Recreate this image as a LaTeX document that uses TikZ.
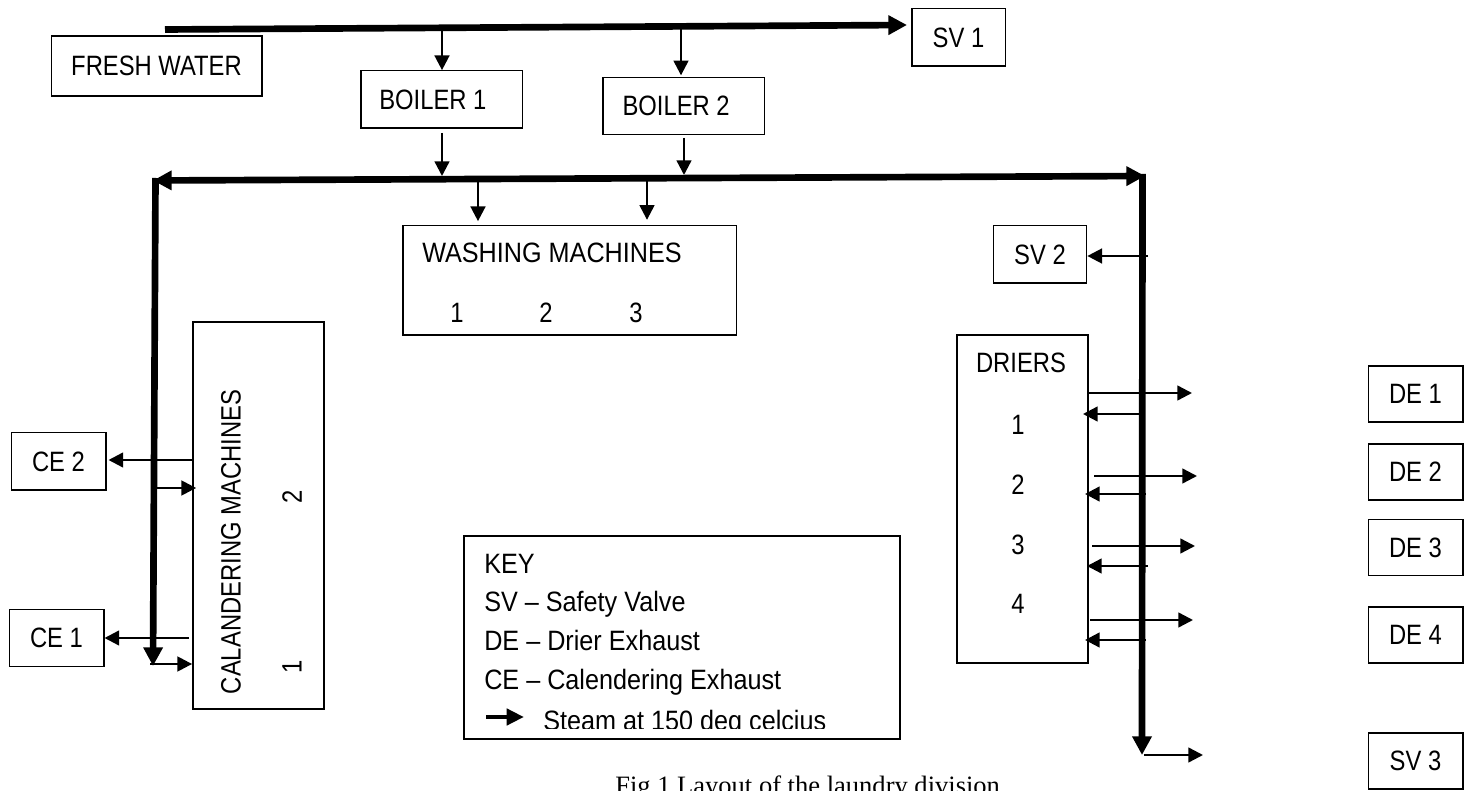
\documentclass[tikz,border=0pt]{standalone}
\usepackage{fontspec}
\setmainfont[FakeStretch=0.9]{Liberation Sans}
\newfontfamily\narrowfont[FakeStretch=0.85]{Liberation Sans}
\newfontfamily\capfont{Liberation Serif}
\usetikzlibrary{arrows.meta}

\begin{document}
\begin{tikzpicture}[x=0.75pt, y=-0.75pt, font=\narrowfont\fontsize{21}{25}\selectfont,
  >={Triangle[length=11pt,width=11pt]},
  box/.style={draw, line width=#1, inner sep=0pt, align=center},
  box/.default=1pt,
  txt/.style={inner sep=0pt, anchor=center},
  keytxt/.style={inner sep=0pt, anchor=base west, font=\normalfont\fontsize{21}{25}\selectfont},
  pipe/.style={->, line width=1.8pt},
  steam/.style={line width=5pt, -{Triangle[length=14pt,width=14pt]}},
  steamboth/.style={line width=5pt, {Triangle[length=14pt,width=14pt]}-{Triangle[length=14pt,width=14pt]}}]
  \useasboundingbox (0,0) rectangle (1472,791);
  % top row
  \node[box, minimum width=158pt, minimum height=45pt] (fresh) at (156.5,66) {FRESH WATER};
  \node[box, minimum width=121pt, minimum height=43pt] (boilerA) at (441.5,99.5) {BOILER 1\hspace*{13pt}};
  \node[box, minimum width=121pt, minimum height=43pt] (boilerB) at (683.5,106) {BOILER 2\hspace*{11pt}};
  \node[box, minimum width=70pt, minimum height=43pt] (svA) at (958.5,37.5) {SV 1};
  \node[box, minimum width=70pt, minimum height=43pt] (svB) at (1040,254.5) {SV 2};
  % machines
  \node[box, minimum width=250pt, minimum height=82pt] (wash) at (569.5,280.5) {};
  \node[txt, font=\normalfont\fontsize{21}{25}\selectfont] (washT) at (552,253) {WASHING MACHINES};
  \node[txt] (washA) at (457,313) {1};
  \node[txt] (washB) at (546,313) {2};
  \node[txt] (washC) at (636,313) {3};
  \node[box=1.6pt, minimum width=98pt, minimum height=290pt] (cal) at (258.5,515.5) {};
  \node[txt, rotate=90] (calT) at (231,542) {CALANDERING MACHINES};
  \node[txt, rotate=90] (calB) at (292,497) {2};
  \node[txt, rotate=90] (calA) at (292,667) {1};
  \node[box=1.6pt, minimum width=98pt, minimum height=246pt] (dry) at (1022.5,499) {};
  \node[txt] (dryT) at (1021,363) {DRIERS};
  \node[txt] (dryA) at (1018,425) {1};
  \node[txt] (dryB) at (1018,485) {2};
  \node[txt] (dryC) at (1018,545) {3};
  \node[txt] (dryD) at (1018,604) {4};
  % exhausts
  \node[box, minimum width=71pt, minimum height=43pt] (ceB) at (58.5,461.5) {CE 2};
  \node[box, minimum width=71pt, minimum height=43pt] (ceA) at (56.5,638) {CE 1};
  \node[box, minimum width=71pt, minimum height=42pt] (deA) at (1415.5,394) {DE 1};
  \node[box, minimum width=71pt, minimum height=42pt] (deB) at (1415.5,472) {DE 2};
  \node[box, minimum width=71pt, minimum height=42pt] (deC) at (1415.5,547.5) {DE 3};
  \node[box, minimum width=71pt, minimum height=42pt] (deD) at (1415.5,635) {DE 4};
  \node[box, minimum width=71pt, minimum height=42pt] (svC) at (1415.5,761) {SV 3};
  % key
  \node[box, minimum width=327pt, minimum height=152pt] (key) at (682,637.5) {};
  \node[keytxt] (keyT) at (484,574) {KEY};
  \node[keytxt] (keyA) at (484,612) {SV -- Safety Valve};
  \node[keytxt] (keyB) at (484,650) {DE -- Drier Exhaust};
  \node[keytxt] (keyC) at (484,689) {CE -- Calendering Exhaust};
  \begin{scope}
    \clip (464,700) rectangle (900,728);
    \node[keytxt] (keyD) at (543,730) {Steam at 150 deg celcius};
  \end{scope}
  \coordinate (keyL) at (486,717);
  \coordinate (keyR) at (524,717);
  \draw[-{Triangle[length=13pt,width=12pt]}, line width=3.5pt] (keyL) -- (keyR);
  \node[txt, anchor=base west, font=\capfont\fontsize{19.9}{24}\selectfont] (caption) at (615,794.5) {Fig 1 Layout of the laundry division};
  % water line
  \coordinate (inW) at (165,29.5);
  \coordinate (svAin) at (907,25);
  \coordinate (jA) at (442,28);
  \coordinate (jB) at (681,26.5);
  \draw[steam] (inW) -- (svAin);
  \draw[pipe] (jA) -- (boilerA.north -| jA);
  \draw[pipe] (jB) -- ([yshift=1pt]boilerB.north -| jB);
  % steam lines
  \coordinate (hdrL) at (153,180.5);
  \coordinate (hdrR) at (1145,176);
  \coordinate (dnL) at (153,666);
  \coordinate (dnR) at (1142,755);
  \coordinate (cornerL) at (155.5,178);
  \coordinate (cornerR) at (1142.5,174);
  \draw[steamboth] (hdrL) -- (hdrR);
  \draw[steam] (cornerL) -- (dnL);
  \draw[steam] (cornerR) -- (dnR);
  \coordinate (bA) at (442,176);
  \coordinate (bB) at (684,175);
  \coordinate (wA) at (478,181);
  \coordinate (wB) at (647,180);
  \draw[pipe] ([yshift=-3pt]boilerA.south -| bA) -- (bA);
  \draw[pipe] ([yshift=-2pt]boilerB.south -| bB) -- (bB);
  \draw[pipe] (wA) -- ([yshift=3pt]wash.north -| wA);
  \draw[pipe] (wB) -- ([yshift=4pt]wash.north -| wB);
  % side branches
  \coordinate (svBin) at (1148,256);
  \draw[pipe] (svBin) -- (svB.east |- svBin);
  \coordinate (calBo) at (193,460);
  \coordinate (calAo) at (189,638);
  \coordinate (calBi) at (155,488);
  \coordinate (calAi) at (150,664);
  \draw[pipe] (calBo) -- ([xshift=1.5pt]ceB.east |- calBo);
  \draw[pipe] (calAo) -- (ceA.east |- calAo);
  \draw[pipe] (calBi) -- ([xshift=3pt]cal.west |- calBi);
  \draw[pipe] (calAi) -- (cal.west |- calAi);
  % driers
  \coordinate (oA) at (1088,393);
  \coordinate (oAe) at (1192,393);
  \coordinate (iA) at (1140,414);
  \coordinate (iAe) at (1083,414);
  \coordinate (oB) at (1094,476);
  \coordinate (oBe) at (1197,476);
  \coordinate (iB) at (1146,494);
  \coordinate (iBe) at (1085,494);
  \coordinate (oC) at (1092,546);
  \coordinate (oCe) at (1195,546);
  \coordinate (iC) at (1148,566);
  \coordinate (iCe) at (1087,566);
  \coordinate (oD) at (1090,620);
  \coordinate (oDe) at (1193,620);
  \coordinate (iD) at (1146,640);
  \coordinate (iDe) at (1085,640);
  \draw[pipe] (oA) -- (oAe);
  \draw[pipe] (iA) -- (iAe);
  \draw[pipe] (oB) -- (oBe);
  \draw[pipe] (iB) -- (iBe);
  \draw[pipe] (oC) -- (oCe);
  \draw[pipe] (iC) -- (iCe);
  \draw[pipe] (oD) -- (oDe);
  \draw[pipe] (iD) -- (iDe);
  \coordinate (svCs) at (1144,755);
  \coordinate (svCe) at (1203,755);
  \draw[pipe] (svCs) -- (svCe);
\end{tikzpicture}
\end{document}
